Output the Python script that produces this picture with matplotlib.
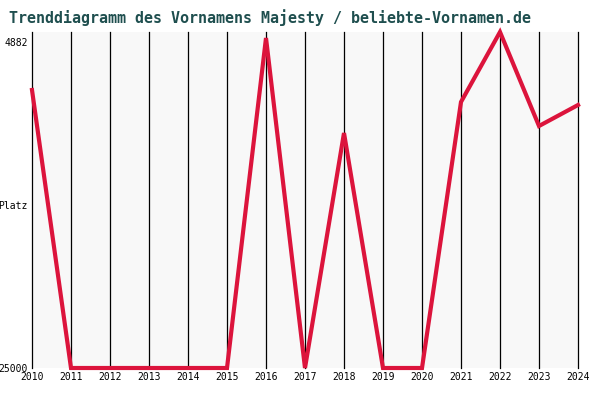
import matplotlib
matplotlib.use("Agg")
import matplotlib.pyplot as plt

years = [2010, 2011, 2012, 2013, 2014, 2015, 2016, 2017, 2018, 2019, 2020, 2021, 2022, 2023, 2024]
ranks = [7844, 25000, 25000, 25000, 25000, 25000, 4635, 25000, 10498, 25000, 25000, 8585, 4265, 10066, 8770]
ytick_vals = [4882, 14941, 25000]
ytick_labels = ["4882", "Platz", "25000"]

fig = plt.figure(figsize=(6, 4), dpi=100)
fig.patch.set_facecolor("#ffffff")
ax = fig.add_axes([32/600, 1-368/400, (578-32)/600, (368-32)/400])
ax.set_facecolor("#f8f8f8")
ax.set_xlim(2010, 2024)
top = 4882 - 10/326*(25000-4882)
ax.set_ylim(25000, top)
for y in years:
    ax.axvline(y, color="black", lw=0.9, zorder=1, clip_on=False)
ax.plot(years, ranks, color="#dc143c", lw=3, zorder=3, clip_on=False, solid_joinstyle="miter")
for s in ax.spines.values():
    s.set_visible(False)
ax.set_xticks(years)
ax.set_xticklabels([str(y) for y in years], fontsize=7, family="DejaVu Sans Mono")
ax.set_yticks(ytick_vals)
ax.set_yticklabels(ytick_labels, fontsize=7, family="DejaVu Sans Mono")
ax.tick_params(length=0, pad=3)
fig.text(0.015, 0.955, "Trenddiagramm des Vornamens Majesty / beliebte-Vornamen.de",
         fontsize=10.8, family="DejaVu Sans Mono", color="#1f4f4f", weight="bold", va="center")
fig.savefig("out.png", dpi=100)
